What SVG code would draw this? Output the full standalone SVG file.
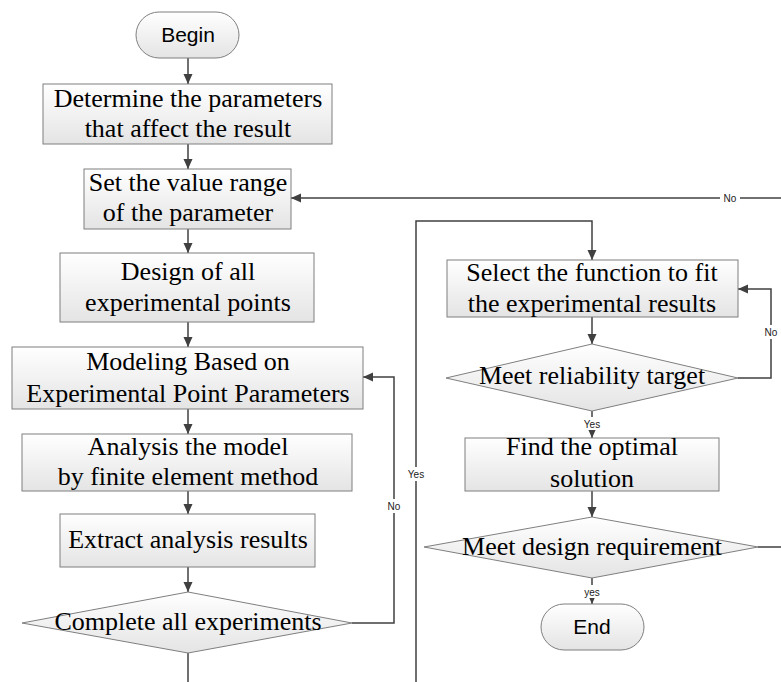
<svg xmlns="http://www.w3.org/2000/svg" width="781" height="682" viewBox="0 0 781 682">
<defs>
<linearGradient id="g" x1="0" y1="0" x2="0" y2="1">
<stop offset="0" stop-color="#ffffff"/>
<stop offset="1" stop-color="#e4e4e4"/>
</linearGradient>
<marker id="ah" markerUnits="userSpaceOnUse" markerWidth="11" markerHeight="10" refX="10" refY="4.5" orient="auto">
<path d="M0,0 L10,4.5 L0,9 z" fill="#404040"/>
</marker>
</defs>
<style>
.box{fill:url(#g);stroke:#7f7f7f;stroke-width:1}
.t{font-family:"Liberation Serif","Times New Roman",serif;font-size:26px;fill:#000;text-anchor:middle}
.s{font-family:"Liberation Sans",Arial,sans-serif;font-size:21px;fill:#000;text-anchor:middle}
.c{fill:none;stroke:#404040;stroke-width:1.5}
.a{marker-end:url(#ah)}
.lb{font-family:"Liberation Sans",Arial,sans-serif;font-size:10px;fill:#222;text-anchor:middle}
.bg{fill:#fff}
</style>
<rect width="781" height="682" fill="#fff"/>
<g id="connectors">
<path class="c a" d="M188,58 V84"/>
<path class="c a" d="M188,144 V169"/>
<path class="c a" d="M188,229 V253"/>
<path class="c a" d="M188,322 V347"/>
<path class="c a" d="M188,409 V434"/>
<path class="c a" d="M188,491 V514"/>
<path class="c a" d="M188,567 V592"/>
<path class="c" d="M188,653 V682"/>
<path class="c a" d="M352,623 H394 V377 H363"/>
<path class="c a" d="M416,682 V221 H592 V260"/>
<path class="c a" d="M781,198 H291"/>
<path class="c a" d="M592,317 V344"/>
<path class="c a" d="M738,378 H771 V289 H738"/>
<path class="c a" d="M592,411 V438"/>
<path class="c a" d="M592,491 V517"/>
<path class="c" d="M758,547 H781"/>
<path class="c a" d="M592,578 V604"/>
<rect class="bg" x="720" y="192" width="20" height="12"/>
<text class="lb" x="730" y="202">No</text>
<rect class="bg" x="385" y="499" width="18" height="14"/>
<text class="lb" x="394" y="510">No</text>
<rect class="bg" x="406" y="467" width="20" height="14"/>
<text class="lb" x="416" y="478">Yes</text>
<rect class="bg" x="762" y="325" width="18" height="14"/>
<text class="lb" x="771" y="336">No</text>
<rect class="bg" x="582" y="417" width="20" height="13"/>
<text class="lb" x="592" y="428">Yes</text>
<rect class="bg" x="582" y="585" width="20" height="13"/>
<text class="lb" x="592" y="596">yes</text>
</g>
<g id="begin">
<rect class="box" x="136" y="12" width="103" height="46" rx="23"/>
<text class="s" x="188" y="42">Begin</text>
</g>
<g id="determine">
<rect class="box" x="43" y="84" width="289" height="60"/>
<text class="t" x="188" y="107">Determine the parameters</text>
<text class="t" x="188" y="137">that affect the result</text>
</g>
<g id="setrange">
<rect class="box" x="84" y="169" width="207" height="60"/>
<text class="t" x="188" y="191">Set the value range</text>
<text class="t" x="188" y="221">of the parameter</text>
</g>
<g id="design">
<rect class="box" x="60" y="253" width="254" height="69"/>
<text class="t" x="188" y="280">Design of all</text>
<text class="t" x="188" y="311">experimental points</text>
</g>
<g id="modeling">
<rect class="box" x="12" y="347" width="351" height="62"/>
<text class="t" x="188" y="370">Modeling Based on</text>
<text class="t" x="188" y="402">Experimental Point Parameters</text>
</g>
<g id="analysis">
<rect class="box" x="22" y="434" width="330" height="57"/>
<text class="t" x="188" y="455">Analysis the model</text>
<text class="t" x="188" y="485">by finite element method</text>
</g>
<g id="extract">
<rect class="box" x="60" y="514" width="255" height="53"/>
<text class="t" x="188" y="548">Extract analysis results</text>
</g>
<g id="complete">
<polygon class="box" points="188,592 352,623 188,653 22,623"/>
<text class="t" x="188" y="630">Complete all experiments</text>
</g>
<g id="select">
<rect class="box" x="447" y="260" width="291" height="57"/>
<text class="t" x="592" y="281">Select the function to fit</text>
<text class="t" x="592" y="312">the experimental results</text>
</g>
<g id="reliability">
<polygon class="box" points="592,344 738,378 592,411 446,378"/>
<text class="t" x="592" y="384">Meet reliability target</text>
</g>
<g id="optimal">
<rect class="box" x="465" y="438" width="254" height="53"/>
<text class="t" x="592" y="455">Find the optimal</text>
<text class="t" x="592" y="487">solution</text>
</g>
<g id="requirement">
<polygon class="box" points="592,517 758,547 592,578 424,547"/>
<text class="t" x="592" y="555">Meet design requirement</text>
</g>
<g id="end">
<rect class="box" x="541" y="604" width="103" height="46" rx="23"/>
<text class="s" x="592" y="634">End</text>
</g>
</svg>
